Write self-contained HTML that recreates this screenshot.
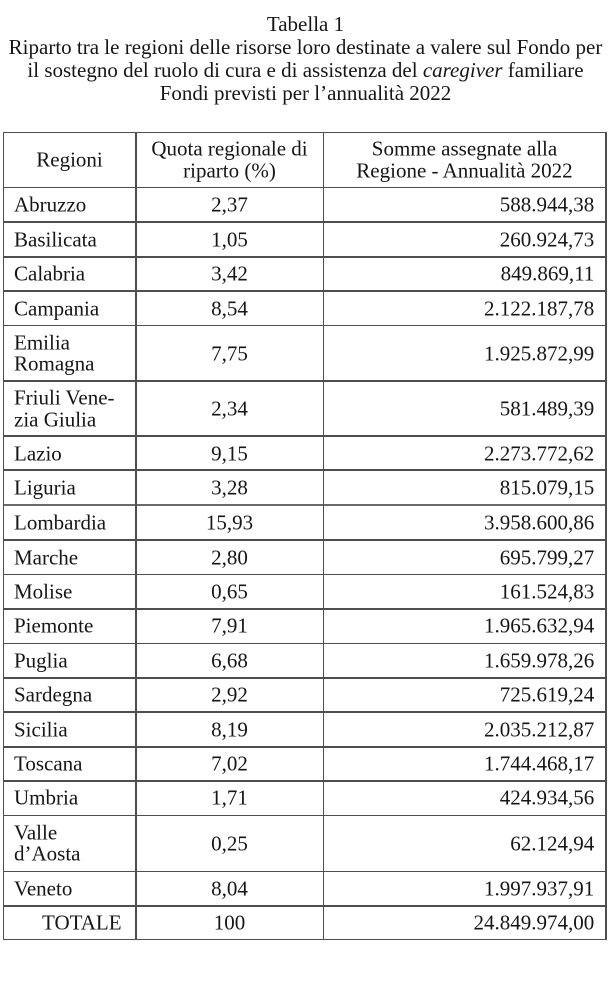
<!DOCTYPE html>
<html>
<head>
<meta charset="utf-8">
<style>
html,body{margin:0;padding:0;background:#fff;}
body{width:613px;height:996px;position:relative;overflow:hidden;font-family:"Liberation Serif","Times New Roman",serif;color:#161616;font-size:21px;}
.title{position:absolute;left:0;top:13.2px;width:611px;text-align:center;line-height:22.8px;white-space:nowrap;}
.h{position:absolute;left:3px;width:603.5px;height:1.5px;background:#4e4e4e;}
.v{position:absolute;top:131.6px;height:808.4px;width:1.5px;background:#4e4e4e;}
.c{position:absolute;display:flex;align-items:center;line-height:21px;white-space:nowrap;transform:translateY(0.7px);}
.c1{left:14px;width:120px;}
.c2{left:136px;width:187px;justify-content:center;text-align:center;}
.c3{left:324px;width:270.3px;justify-content:flex-end;text-align:right;}
.two{line-height:21.5px;}
</style>
</head>
<body>
<div class="title">Tabella 1<br>Riparto tra le regioni delle risorse loro destinate a valere sul Fondo per<br>il sostegno del ruolo di cura e di assistenza del <i>caregiver</i> familiare<br>Fondi previsti per l’annualità 2022</div>

<!-- horizontal lines -->
<div class="h" style="top:131.6px"></div>
<div class="h" style="top:186.6px"></div>
<div class="h" style="top:221.3px"></div>
<div class="h" style="top:256px"></div>
<div class="h" style="top:290.3px"></div>
<div class="h" style="top:324.6px"></div>
<div class="h" style="top:380.3px"></div>
<div class="h" style="top:435.3px"></div>
<div class="h" style="top:469.3px"></div>
<div class="h" style="top:503.8px;height:2.6px;background:#6a6a6a"></div>
<div class="h" style="top:539.3px"></div>
<div class="h" style="top:573.6px"></div>
<div class="h" style="top:608px"></div>
<div class="h" style="top:642.6px"></div>
<div class="h" style="top:677px"></div>
<div class="h" style="top:711.3px"></div>
<div class="h" style="top:746px"></div>
<div class="h" style="top:780px"></div>
<div class="h" style="top:814.6px"></div>
<div class="h" style="top:870.6px"></div>
<div class="h" style="top:905px"></div>
<div class="h" style="top:938.6px"></div>

<!-- vertical lines -->
<div class="v" style="left:2.8px"></div>
<div class="v" style="left:135px"></div>
<div class="v" style="left:322.6px"></div>
<div class="v" style="left:605px"></div>

<!-- header -->
<div class="c" style="top:132.3px;height:55px;left:4px;width:131px;justify-content:center;">Regioni</div>
<div class="c c2 two" style="top:132.3px;height:55px;">Quota regionale di<br>riparto (%)</div>
<div class="c two" style="top:132.3px;height:55px;left:324px;width:281px;justify-content:center;text-align:center;">Somme assegnate alla<br>Regione - Annualità 2022</div>

<!-- rows -->
<div class="c c1" style="top:187.3px;height:34.7px">Abruzzo</div><div class="c c2" style="top:187.3px;height:34.7px">2,37</div><div class="c c3" style="top:187.3px;height:34.7px">588.944,38</div>
<div class="c c1" style="top:222px;height:34.7px">Basilicata</div><div class="c c2" style="top:222px;height:34.7px">1,05</div><div class="c c3" style="top:222px;height:34.7px">260.924,73</div>
<div class="c c1" style="top:256.7px;height:34.3px">Calabria</div><div class="c c2" style="top:256.7px;height:34.3px">3,42</div><div class="c c3" style="top:256.7px;height:34.3px">849.869,11</div>
<div class="c c1" style="top:291px;height:34.3px">Campania</div><div class="c c2" style="top:291px;height:34.3px">8,54</div><div class="c c3" style="top:291px;height:34.3px">2.122.187,78</div>
<div class="c c1 two" style="top:325.3px;height:55.7px">Emilia<br>Romagna</div><div class="c c2" style="top:325.3px;height:55.7px">7,75</div><div class="c c3" style="top:325.3px;height:55.7px">1.925.872,99</div>
<div class="c c1 two" style="top:381px;height:55px">Friuli Vene-<br>zia Giulia</div><div class="c c2" style="top:381px;height:55px">2,34</div><div class="c c3" style="top:381px;height:55px">581.489,39</div>
<div class="c c1" style="top:436px;height:34px">Lazio</div><div class="c c2" style="top:436px;height:34px">9,15</div><div class="c c3" style="top:436px;height:34px">2.273.772,62</div>
<div class="c c1" style="top:470px;height:35px">Liguria</div><div class="c c2" style="top:470px;height:35px">3,28</div><div class="c c3" style="top:470px;height:35px">815.079,15</div>
<div class="c c1" style="top:505px;height:35px">Lombardia</div><div class="c c2" style="top:505px;height:35px">15,93</div><div class="c c3" style="top:505px;height:35px">3.958.600,86</div>
<div class="c c1" style="top:540px;height:34.3px">Marche</div><div class="c c2" style="top:540px;height:34.3px">2,80</div><div class="c c3" style="top:540px;height:34.3px">695.799,27</div>
<div class="c c1" style="top:574.3px;height:34.4px">Molise</div><div class="c c2" style="top:574.3px;height:34.4px">0,65</div><div class="c c3" style="top:574.3px;height:34.4px">161.524,83</div>
<div class="c c1" style="top:608.7px;height:34.6px">Piemonte</div><div class="c c2" style="top:608.7px;height:34.6px">7,91</div><div class="c c3" style="top:608.7px;height:34.6px">1.965.632,94</div>
<div class="c c1" style="top:643.3px;height:34.4px">Puglia</div><div class="c c2" style="top:643.3px;height:34.4px">6,68</div><div class="c c3" style="top:643.3px;height:34.4px">1.659.978,26</div>
<div class="c c1" style="top:677.7px;height:34.3px">Sardegna</div><div class="c c2" style="top:677.7px;height:34.3px">2,92</div><div class="c c3" style="top:677.7px;height:34.3px">725.619,24</div>
<div class="c c1" style="top:712px;height:34.7px">Sicilia</div><div class="c c2" style="top:712px;height:34.7px">8,19</div><div class="c c3" style="top:712px;height:34.7px">2.035.212,87</div>
<div class="c c1" style="top:746.7px;height:34px">Toscana</div><div class="c c2" style="top:746.7px;height:34px">7,02</div><div class="c c3" style="top:746.7px;height:34px">1.744.468,17</div>
<div class="c c1" style="top:780.7px;height:34.6px">Umbria</div><div class="c c2" style="top:780.7px;height:34.6px">1,71</div><div class="c c3" style="top:780.7px;height:34.6px">424.934,56</div>
<div class="c c1 two" style="top:815.3px;height:56px">Valle<br>d’Aosta</div><div class="c c2" style="top:815.3px;height:56px">0,25</div><div class="c c3" style="top:815.3px;height:56px">62.124,94</div>
<div class="c c1" style="top:871.3px;height:34.4px">Veneto</div><div class="c c2" style="top:871.3px;height:34.4px">8,04</div><div class="c c3" style="top:871.3px;height:34.4px">1.997.937,91</div>
<div class="c" style="top:905.7px;height:33.6px;left:42px;width:90px;">TOTALE</div><div class="c c2" style="top:905.7px;height:33.6px">100</div><div class="c c3" style="top:905.7px;height:33.6px">24.849.974,00</div>
</body>
</html>
